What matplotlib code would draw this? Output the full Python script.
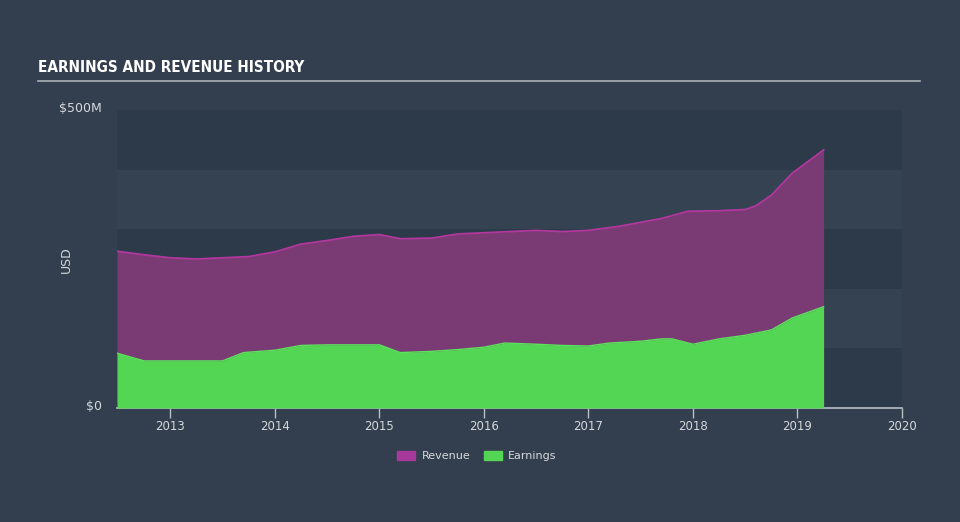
import matplotlib.pyplot as plt
from matplotlib.patches import Patch

# Revenue and earnings (USD millions)
rev_years = [2012.49, 2012.75, 2013.0, 2013.25, 2013.5, 2013.75, 2014.0, 2014.25,
             2014.5, 2014.75, 2015.0, 2015.2, 2015.5, 2015.75, 2016.0, 2016.5,
             2016.75, 2017.0, 2017.3, 2017.7, 2017.95, 2018.25, 2018.5, 2018.6,
             2018.75, 2018.95, 2019.25]
revenue = [263, 257, 252, 250, 252, 254, 262, 275, 281, 288, 291, 284, 285, 292,
           294, 298, 296, 298, 305, 318, 330, 331, 333, 339, 357, 394, 433]

earn_years = [2012.49, 2012.75, 2013.0, 2013.25, 2013.5, 2013.7, 2014.0, 2014.25,
              2014.5, 2014.75, 2015.0, 2015.2, 2015.5, 2015.75, 2016.0, 2016.2,
              2016.5, 2016.75, 2017.0, 2017.2, 2017.5, 2017.7, 2017.8, 2018.0,
              2018.25, 2018.5, 2018.75, 2018.95, 2019.25]
earnings = [92, 79, 79, 79, 79, 93, 97, 105, 106, 106, 106, 93, 95, 98, 102, 109,
            107, 105, 104, 109, 112, 116, 116, 107, 116, 122, 131, 151, 170]

year_ticks = [2013, 2014, 2015, 2016, 2017, 2018, 2019, 2020]

bg = '#333f4e'
text_col = '#d4d8dc'

fig = plt.figure(figsize=(9.6, 5.22), dpi=100, facecolor=bg)
ax = fig.add_axes([117 / 960, 114 / 522, 785 / 960, 298 / 522])
ax.set_facecolor(bg)

# alternating horizontal bands
for i in range(5):
    c = '#2d3a49' if i % 2 == 0 else '#344252'
    ax.axhspan(i * 100, (i + 1) * 100, color=c, lw=0, zorder=0)

ax.fill_between(rev_years, revenue, color='#7a3a74', lw=0, zorder=1)
ax.plot(rev_years, revenue, color='#b2379e', lw=1.3, zorder=2)
ax.fill_between(earn_years, earnings, color='#52d654', lw=0, zorder=3)
ax.plot(earn_years, earnings, color='#5ce25c', lw=1.0, zorder=4)

ax.set_xlim(2012.49, 2020)
ax.set_ylim(0, 500)
ax.set_xticks(year_ticks)
ax.set_xticklabels([str(y) for y in year_ticks], color=text_col, fontsize=8.5)
ax.set_yticks([])
ax.tick_params(axis='x', length=7, width=1, color='#b8bec6', pad=2)
for s in ['top', 'right', 'left']:
    ax.spines[s].set_visible(False)
ax.spines['bottom'].set_color('#b8bec6')
ax.spines['bottom'].set_linewidth(1.2)

# y labels
fig.text(102 / 960, 1 - 108 / 522, '$500M', color=text_col, fontsize=9,
         ha='right', va='center')
fig.text(102 / 960, 1 - 406 / 522, '$0', color=text_col, fontsize=9,
         ha='right', va='center')
fig.text(66 / 960, 1 - 260 / 522, 'USD', color=text_col, fontsize=9,
         rotation=90, ha='center', va='center')

# title and underline
fig.text(38 / 960, 1 - 68 / 522, 'EARNINGS AND REVENUE HISTORY', color='white',
         fontsize=11, fontweight='bold', family='DejaVu Sans', fontstretch='condensed',
         ha='left', va='center')
fig.add_artist(plt.Line2D([38 / 960, 920 / 960], [1 - 81 / 522, 1 - 81 / 522],
                          color='#aab0b8', lw=1.2))

handles = [Patch(color='#a8399a', label='Revenue'),
           Patch(color='#52d654', label='Earnings')]
leg = fig.legend(handles=handles, loc='center', bbox_to_anchor=(477 / 960, 1 - 456 / 522),
                 ncol=2, frameon=False, fontsize=8, handlelength=1.6, handleheight=0.9,
                 columnspacing=1.2, handletextpad=0.6)
for t in leg.get_texts():
    t.set_color(text_col)

fig.savefig('out.png', dpi=100, facecolor=bg)
